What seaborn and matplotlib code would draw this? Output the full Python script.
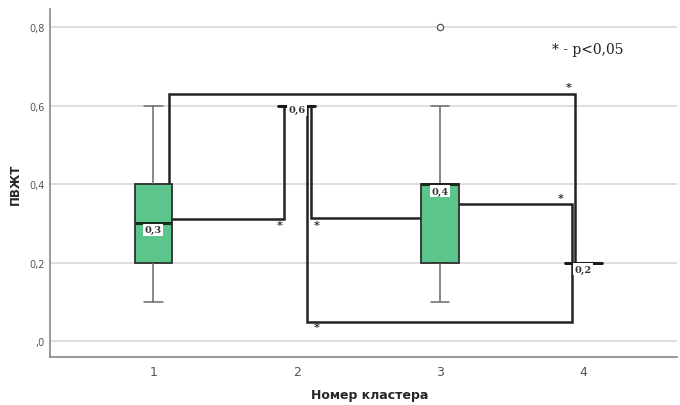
import pandas as pd
import matplotlib.pyplot as plt
import seaborn as sns

# raw values per cluster (quartiles)
clusters = ["1", "2", "3", "4"]
vals_1 = [0.1, 0.2, 0.2, 0.3, 0.3, 0.4, 0.4, 0.6]
vals_2 = [0.6, 0.6, 0.6]
vals_3 = [0.1, 0.2, 0.2, 0.4, 0.4, 0.4, 0.4, 0.6, 0.8]
vals_4 = [0.2, 0.2, 0.2]

median_labels = ["0,3", "0,6", "0,4", "0,2"]
median_label_y = [0.284, 0.59, 0.382, 0.183]

# significance brackets (x in category index units, y in data units)
brackets = [
    ([0.11, 0.11, 2.94, 2.94], [0.40, 0.63, 0.63, 0.20]),
    ([0.13, 0.91, 0.91], [0.31, 0.31, 0.60]),
    ([1.10, 1.10, 1.87], [0.60, 0.313, 0.313]),
    ([1.07, 1.07, 2.92, 2.92], [0.60, 0.048, 0.048, 0.20]),
    ([2.13, 2.92, 2.92], [0.35, 0.35, 0.20]),
]
stars_x = [2.90, 0.88, 1.14, 1.14, 2.84]
stars_y = [0.65, 0.296, 0.296, 0.036, 0.367]

df = pd.DataFrame({
    "cluster": ["1"] * len(vals_1) + ["2"] * len(vals_2) + ["3"] * len(vals_3) + ["4"] * len(vals_4),
    "value": vals_1 + vals_2 + vals_3 + vals_4,
})

sns.set_style("white")
plt.rcParams['font.family'] = ['DejaVu Sans']

fig = plt.figure(figsize=(6.8, 4.06), dpi=100)
ax = fig.add_axes([0.0735, 0.118, 0.9215, 0.857])

ax.set_axisbelow(True)
for v in [0.0, 0.2, 0.4, 0.6, 0.8]:
    ax.axhline(v, color="#d8d8d8", lw=1.2, zorder=0)

for xs, ys in brackets:
    ax.plot(xs, ys, color="#222222", lw=1.8, zorder=1.5, solid_joinstyle="miter")

sns.boxplot(data=df, x="cluster", y="value", order=clusters, ax=ax,
            color="#5CC58B", saturation=1, width=0.26, linewidth=1.2,
            boxprops=dict(edgecolor="#2f2f2f", linewidth=1.3, zorder=2),
            medianprops=dict(color="#1a2a1f", linewidth=2.2, zorder=3),
            whiskerprops=dict(color="#6a6a6a", linewidth=1.1),
            capprops=dict(color="#6a6a6a", linewidth=1.1),
            flierprops=dict(marker="o", markersize=4.5, markerfacecolor="white",
                            markeredgecolor="#555555", markeredgewidth=0.9))

# collapsed boxes of clusters 2 and 4 are drawn darker in the original
for i in [1, 3]:
    ax.plot([i - 0.13, i + 0.13], [df[df.cluster == clusters[i]].value.iloc[0]] * 2,
            color="#1a1a1a", lw=2.0, zorder=5)

for sx, sy in zip(stars_x, stars_y):
    ax.text(sx, sy, "*", ha="center", va="center", fontsize=8, fontweight="bold",
            family="DejaVu Serif", color="#222222", zorder=7)

for i, (lab, ly) in enumerate(zip(median_labels, median_label_y)):
    ax.text(i, ly, lab, ha="center", va="center", fontsize=7, fontweight="bold",
            family="DejaVu Serif", color="#333333", zorder=8,
            bbox=dict(boxstyle="square,pad=0.15", facecolor="white", edgecolor="none"))

ax.text(2.78, 0.745, "* - p<0,05", ha="left", va="center", fontsize=10,
        family="DejaVu Serif", color="#222222")

ax.set_ylim(-0.041, 0.846)
ax.set_xlim(-0.722, 3.65)
ax.set_yticks([0.0, 0.2, 0.4, 0.6, 0.8])
ax.set_yticklabels([",0", "0,2", "0,4", "0,6", "0,8"], fontsize=7, color="#555555")
ax.set_xticks(range(4))
ax.set_xticklabels(clusters, fontsize=9, color="#555555")
ax.tick_params(axis="y", length=0, pad=4)
ax.tick_params(axis="x", length=0, pad=6)
ax.set_xlabel("Номер кластера", fontsize=9, fontweight="bold")
ax.xaxis.set_label_coords(0.51, -0.107)
ax.xaxis.label.set_va("center")
ax.set_ylabel("ПВЖТ", fontsize=8.5, fontweight="bold", labelpad=5)

for s in ["top", "right"]:
    ax.spines[s].set_visible(False)
for s in ["left", "bottom"]:
    ax.spines[s].set_color("#888888")
    ax.spines[s].set_linewidth(1.2)

plt.savefig("out.png", dpi=100)
